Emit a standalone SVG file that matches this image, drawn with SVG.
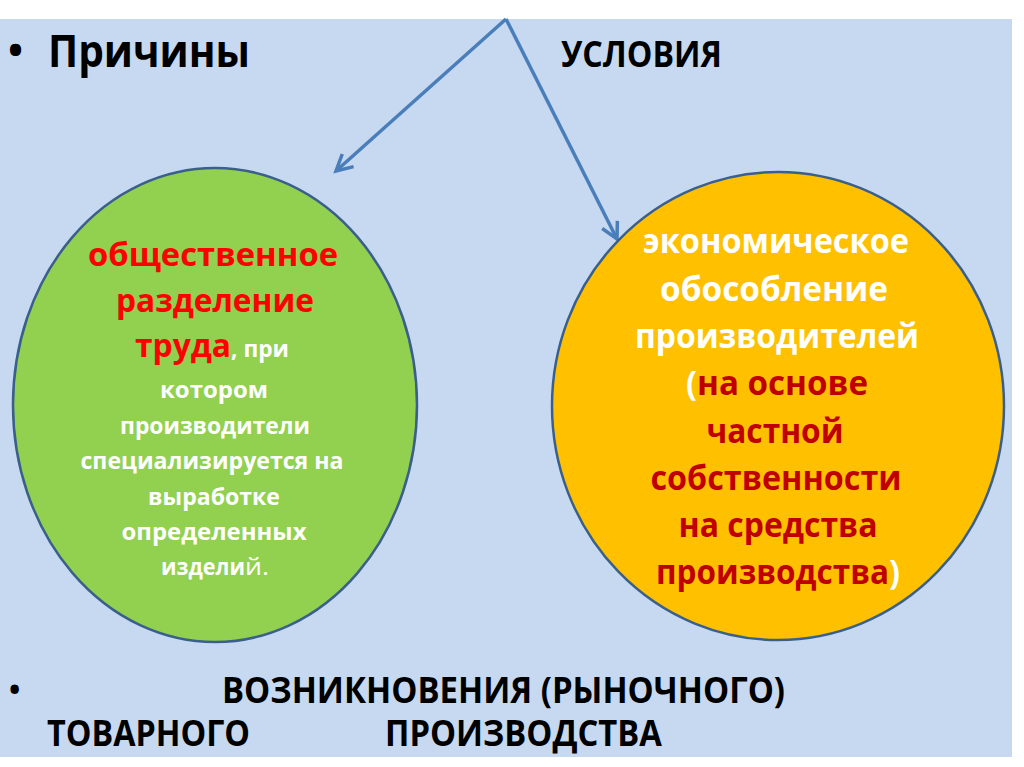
<svg xmlns="http://www.w3.org/2000/svg" width="1024" height="767" viewBox="0 0 1024 767">
<defs>
<style>
text{font-family:"Open Sans","Noto Sans","Liberation Sans",sans-serif;font-weight:bold;}
.blk{fill:#000;}
.wht{fill:#fff;}
.red{fill:#ff0000;}
.dred{fill:#c00000;}
.lft{font-size:32px;text-anchor:middle;}
.lsm{font-size:24px;text-anchor:middle;}
.rgt{font-size:34px;text-anchor:middle;}
.big{font-size:36px;}
.conn{stroke:#4a7ebb;stroke-width:3.5;fill:none;marker-end:url(#arr);}
.node{stroke:#3a5f8b;stroke-width:2.5;}
</style>
<marker id="arr" markerUnits="userSpaceOnUse" markerWidth="26" markerHeight="26" refX="19" refY="12" orient="auto" viewBox="0 0 26 24">
<path d="M3,3.5 L19,12 L3,20.5" fill="none" stroke="#4a7ebb" stroke-width="3.5" stroke-linejoin="miter"/>
</marker>
</defs>
<rect x="0" y="0" width="1024" height="767" fill="#ffffff"/>
<rect x="0" y="19" width="1012" height="738" fill="#c6d9f1"/>

<g id="title-top">
<text x="8" y="64" class="blk" style="font-size:40px">•</text>
<text x="48" y="67" class="blk" style="font-size:44px" textLength="202" lengthAdjust="spacingAndGlyphs">Причины</text>
<text x="561" y="67" class="blk" style="font-size:35px" textLength="161" lengthAdjust="spacingAndGlyphs">УСЛОВИЯ</text>
</g>

<g id="connectors">
<line x1="506" y1="19" x2="336" y2="171" class="conn"/>
<line x1="506" y1="19" x2="617" y2="239" class="conn"/>
</g>

<g id="node-left">
<ellipse cx="215" cy="405" rx="202" ry="237" fill="#92d050" class="node"/>
<text x="213" y="266" class="lft red" textLength="250" lengthAdjust="spacingAndGlyphs">общественное</text>
<text x="215" y="312" class="lft red" textLength="198" lengthAdjust="spacingAndGlyphs">разделение</text>
<text y="357"><tspan x="135" class="red" style="font-size:32px" textLength="96" lengthAdjust="spacingAndGlyphs">труда</tspan><tspan class="wht" style="font-size:24px" textLength="58" lengthAdjust="spacingAndGlyphs">, при</tspan></text>
<text x="214" y="398" class="lsm wht" textLength="108" lengthAdjust="spacingAndGlyphs">котором</text>
<text x="215" y="434" class="lsm wht" textLength="190" lengthAdjust="spacingAndGlyphs">производители</text>
<text x="212" y="469" class="lsm wht" textLength="263" lengthAdjust="spacingAndGlyphs">специализируется на</text>
<text x="214" y="505" class="lsm wht" textLength="132" lengthAdjust="spacingAndGlyphs">выработке</text>
<text x="214" y="540" class="lsm wht" textLength="185" lengthAdjust="spacingAndGlyphs">определенных</text>
<text y="575"><tspan x="161" class="wht" style="font-size:24px" textLength="84" lengthAdjust="spacingAndGlyphs">издели</tspan><tspan class="wht" style="font-size:24px;font-weight:normal" textLength="24" lengthAdjust="spacingAndGlyphs">й.</tspan></text>
</g>

<g id="node-right">
<ellipse cx="778" cy="406" rx="226" ry="234" fill="#ffc000" class="node"/>
<text x="776" y="253" class="rgt wht" textLength="266" lengthAdjust="spacingAndGlyphs">экономическое</text>
<text x="774" y="301" class="rgt wht" textLength="228" lengthAdjust="spacingAndGlyphs">обособление</text>
<text x="777" y="348" class="rgt wht" textLength="284" lengthAdjust="spacingAndGlyphs">производителей</text>
<text y="395" style="font-size:34px"><tspan x="686" class="wht" textLength="11" lengthAdjust="spacingAndGlyphs">(</tspan><tspan class="dred" textLength="171" lengthAdjust="spacingAndGlyphs">на основе</tspan></text>
<text x="775" y="443" class="rgt dred" textLength="137" lengthAdjust="spacingAndGlyphs">частной</text>
<text x="776" y="490" class="rgt dred" textLength="251" lengthAdjust="spacingAndGlyphs">собственности</text>
<text x="778" y="537" class="rgt dred" textLength="199" lengthAdjust="spacingAndGlyphs">на средства</text>
<text y="584" style="font-size:34px"><tspan x="656" class="dred" textLength="233" lengthAdjust="spacingAndGlyphs">производства</tspan><tspan class="wht" textLength="11" lengthAdjust="spacingAndGlyphs">)</tspan></text>
</g>

<g id="title-bottom">
<text x="9" y="700" class="blk" style="font-size:30px">•</text>
<text x="222" y="703" class="blk big" textLength="563" lengthAdjust="spacingAndGlyphs">ВОЗНИКНОВЕНИЯ (РЫНОЧНОГО)</text>
<text x="47" y="746" class="blk big" textLength="203" lengthAdjust="spacingAndGlyphs">ТОВАРНОГО</text>
<text x="385" y="746" class="blk big" textLength="277" lengthAdjust="spacingAndGlyphs">ПРОИЗВОДСТВА</text>
</g>
</svg>
